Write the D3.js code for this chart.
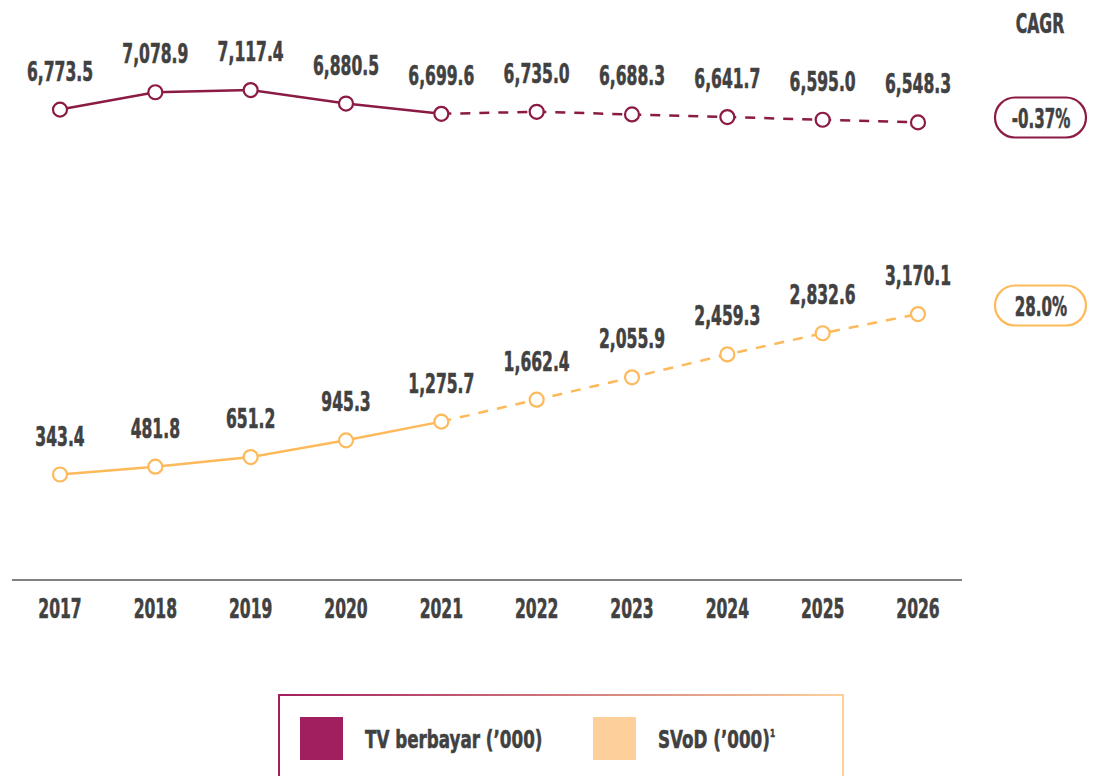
<!DOCTYPE html>
<html>
<head>
<meta charset="utf-8">
<script src="https://cdn.jsdelivr.net/npm/d3@7"></script>
<style>
  body { margin: 0; background: #fff; }
  svg { display: block; font-family: "DejaVu Sans", sans-serif; font-weight: bold; }
</style>
</head>
<body>
<svg id="chart" width="1097" height="776"></svg>
<script>
const years = [2017, 2018, 2019, 2020, 2021, 2022, 2023, 2024, 2025, 2026];
const tvBerbayar = [6773.5, 7078.9, 7117.4, 6880.5, 6699.6, 6735.0, 6688.3, 6641.7, 6595.0, 6548.3];
const svod = [343.4, 481.8, 651.2, 945.3, 1275.7, 1662.4, 2055.9, 2459.3, 2832.6, 3170.1];
const cagrLabels = ["-0.37%", "28.0%"];
const seriesNames = ["TV berbayar (\u2019000)", "SVoD (\u2019000)"];
const lastActual = 2021;

const lineColors = ["#8b1a44", "#fdb95a"];
const swatchColors = ["#a11f5e", "#fdd09b"];
const textColor = "#414141";

const svg = d3.select("#chart");

const x = d3.scalePoint().domain(years).range([60, 918]);
const y = d3.scaleLinear().domain([0, 8000]).range([494, 40]);

const fmt = d3.format(",.1f");

// condensed looking text: squeeze DejaVu bold horizontally
function label(parent, tx, ty, txt, size, sx, anchor) {
  return parent.append("text")
    .attr("transform", "translate(" + tx + "," + ty + ") scale(" + sx + ",1)")
    .attr("text-anchor", anchor || "middle")
    .attr("font-size", size)
    .attr("fill", textColor)
    .attr("stroke", textColor)
    .attr("stroke-width", 0.6)
    .text(txt);
}

// axis baseline
svg.append("line")
  .attr("x1", 12).attr("x2", 962)
  .attr("y1", 580).attr("y2", 580)
  .attr("stroke", "#808080").attr("stroke-width", 2);

const yearG = svg.append("g");
years.forEach(yr => label(yearG, x(yr), 618, yr, 26, 0.6));

const series = [tvBerbayar, svod];
const line = d3.line().x(d => x(d.year)).y(d => y(d.value));
const pillY = [117.5, 305.5];

series.forEach((vals, i) => {
  const pts = years.map((yr, j) => ({year: yr, value: vals[j]}));
  const g = svg.append("g");
  g.append("path")
    .datum(pts.filter(p => p.year <= lastActual))
    .attr("d", line)
    .attr("fill", "none")
    .attr("stroke", lineColors[i])
    .attr("stroke-width", 2.5);
  g.append("path")
    .datum(pts.filter(p => p.year >= lastActual))
    .attr("d", line)
    .attr("fill", "none")
    .attr("stroke", lineColors[i])
    .attr("stroke-width", 2.5)
    .attr("stroke-dasharray", "10,9");
  g.selectAll("circle")
    .data(pts)
    .enter().append("circle")
    .attr("cx", d => x(d.year))
    .attr("cy", d => y(d.value))
    .attr("r", 7)
    .attr("fill", "#fff")
    .attr("stroke", lineColors[i])
    .attr("stroke-width", 2.2);
  pts.forEach(p => label(g, x(p.year), y(p.value) - 29, fmt(p.value), 26, 0.6));

  // CAGR pill
  const cy = pillY[i];
  svg.append("rect")
    .attr("x", 995).attr("y", cy - 20)
    .attr("width", 91).attr("height", 40)
    .attr("rx", 20)
    .attr("fill", "#fff")
    .attr("stroke", lineColors[i])
    .attr("stroke-width", 2.2);
  label(svg, 1041, cy + 10, cagrLabels[i], 26, 0.58);
});

label(svg, 1040, 33, "CAGR", 26, 0.6);

// legend
const defs = svg.append("defs");
const grad = defs.append("linearGradient").attr("id", "legGrad");
grad.append("stop").attr("offset", "0%").attr("stop-color", "#a11f5e");
grad.append("stop").attr("offset", "100%").attr("stop-color", "#fdd09b");

svg.append("rect")
  .attr("x", 279).attr("y", 695)
  .attr("width", 564).attr("height", 100)
  .attr("fill", "none")
  .attr("stroke", "url(#legGrad)")
  .attr("stroke-width", 2);

const legX = [300, 593];
seriesNames.forEach((name, i) => {
  svg.append("rect")
    .attr("x", legX[i]).attr("y", 717)
    .attr("width", 43).attr("height", 43)
    .attr("fill", swatchColors[i]);
  const t = label(svg, legX[i] + 65, 748, name, 25, 0.67, "start");
  if (i === 1) {
    t.append("tspan").attr("font-size", 11).attr("dy", -11).text("1");
  }
});
</script>
</body>
</html>
